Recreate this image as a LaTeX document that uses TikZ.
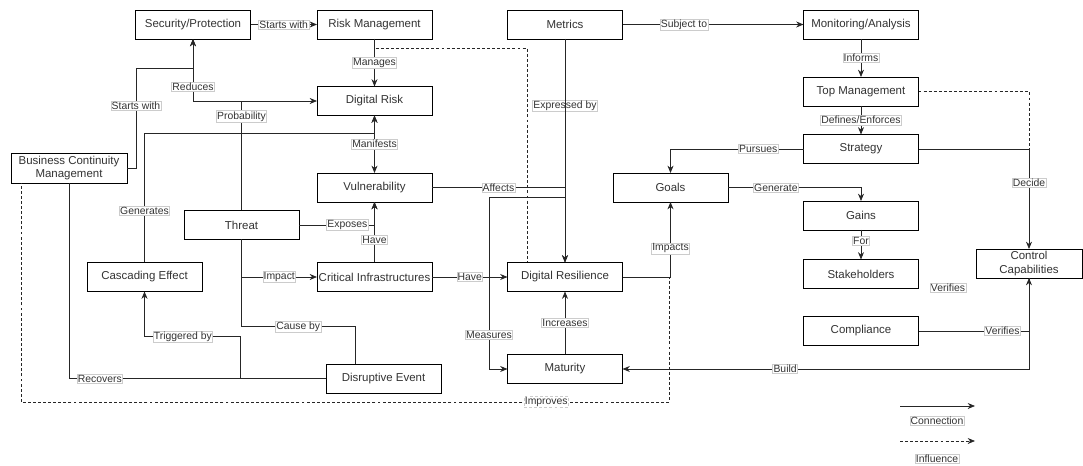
\documentclass[tikz,border=0pt]{standalone}
\usepackage{fontspec}
\setmainfont{Liberation Sans}
\usetikzlibrary{arrows.meta}

\begin{document}
\begin{tikzpicture}[x=0.75pt,y=-0.75pt,>={Stealth[length=5.5pt,width=4.5pt]}]
	\tikzstyle{entity} = [draw, line width=0.7pt, rectangle, fill=white, minimum width=86.25pt, minimum height=21.75pt, inner sep=1pt, outer sep=0pt, align=center, font=\fontsize{8.6}{10}\selectfont, text=black!80]
	\tikzstyle{tag} = [draw=black!20, line width=0.4pt, fill=white, inner sep=0.6pt, font=\fontsize{7.8}{9}\selectfont, text=black!80]
	\tikzstyle{link} = [line width=0.6pt, draw=black!85, ->]
	\tikzstyle{plainlink} = [line width=0.6pt, draw=black!85]
	\tikzstyle{influence} = [line width=0.6pt, draw=black!85, dash pattern=on 2.2pt off 1.6pt]
	\useasboundingbox (0,0) rectangle (1083,466);
	\node[entity] (sec) at (193,24.5) {Security/Protection}; \node[entity] (rm) at (374.5,24.5) {Risk Management}; \node[entity] (met) at (565,24.5) {Metrics}; \node[entity] (mon) at (861,24.5) {Monitoring/Analysis};
	\node[entity] (dr) at (374.5,101) {Digital Risk}; \node[entity] (vul) at (374.5,187.5) {Vulnerability}; \node[entity] (thr) at (241.5,225) {Threat};
	\node[entity, minimum width=87pt, minimum height=22.5pt] (bcm) at (69,168) {Business Continuity\\Management};
	\node[entity] (ci) at (374.5,277) {Critical Infrastructures}; \node[entity] (ce) at (144.5,277) {Cascading Effect}; \node[entity] (dres) at (565,277) {Digital Resilience};
	\node[entity] (mat) at (565,369) {Maturity}; \node[entity] (de) at (383.5,378.5) {Disruptive Event};
	\node[entity] (tm) at (861,91.5) {Top Management}; \node[entity] (str) at (861,149) {Strategy}; \node[entity] (goals) at (670.5,187.5) {Goals};
	\node[entity] (gains) at (861,215.5) {Gains}; \node[entity] (stk) at (861,274) {Stakeholders}; \node[entity] (comp) at (861,331) {Compliance};
	\node[entity, minimum width=79.5pt] (cc) at (1029,263.5) {Control\\Capabilities};
	\draw[influence] (rm.south) -- ++(0,9) -| ([xshift=-28.5pt]dres.north);
	\draw[influence] (dres.east) -- ++(47,0) -- ++(0,125) -| node[tag, pos=0.095]{Improves} ([xshift=7.5pt]bcm.south west);
	\draw[influence] (tm.east) -| (cc.north);
	\draw[link] (sec) -- node[tag]{Starts with} (rm);
	\draw[link] (bcm.east) -- ++(9,0) -- node[tag, pos=0.62]{Starts with} ++(0,-100) -| (sec.south);
	\draw[link] (thr.north) |- (dr.west -| sec) -- node[tag, pos=0.23]{Reduces} (sec.south);
	\draw[link] (thr.north) |- node[tag, pos=0.43]{Probability} (dr.west);
	\draw[link] (rm) -- node[tag]{Manages} (dr);
	\draw[plainlink, <->] (dr) -- node[tag]{Manifests} (vul);
	\draw[link] (ce.north) -- node[tag, pos=0.4]{Generates} ++(0,-129) -| (dr.south);
	\draw[link] (thr.east) -| node[tag, pos=0.32]{Exposes} (vul.south);
	\draw[link] (ci) -- node[tag, pos=0.38]{Have} (vul);
	\draw[link] (thr.south) |- node[tag, pos=0.75]{Impact} (ci.west);
	\draw[plainlink] (thr.south) -- ++(0,87) -| node[tag, pos=0.25]{Cause by} ([xshift=-21.4pt]de.north);
	\draw[link] (de.west) -- ++(-85.5,0) -- ++(0,-42) -| node[tag, pos=0.3]{Triggered by} (ce.south);
	\draw[plainlink] (bcm.south) |- node[tag, pos=0.56]{Recovers} (de.west);
	\draw[link] (dres.east) -| node[tag, pos=0.69]{Impacts} (goals.south);
	\draw[link] (vul.east) -| node[tag, pos=0.25]{Affects} (dres.north);
	\draw[link] (met) -- node[tag, pos=0.3]{Expressed by} (dres);
	\draw[link] (met.south) -- ++(0,158) -- ++(-76,0) |- node[tag, pos=0.4]{Measures} (mat.west);
	\draw[link] (ci) -- node[tag]{Have} (dres);
	\draw[link] (mat) -- node[tag]{Increases} (dres);
	\draw[link] (met) -- node[tag, pos=0.34]{Subject to} (mon);
	\draw[link] (mon) -- node[tag]{Informs} (tm);
	\draw[link] (tm) -- node[tag]{Defines/Enforces} (str);
	\draw[link] (str.east) -| node[tag, pos=0.67]{Decide} (cc.north);
	\draw[link] (comp.east) -| node[tag, pos=0.38]{Verifies} (cc.south);
	\draw[link] (cc.south) |- node[tag, pos=0.8]{Build} (mat.east);
	\draw[link] (str.west) -| node[tag, pos=0.17]{Pursues} (goals.north);
	\draw[link] (goals.east) -| node[tag, pos=0.18]{Generate} (gains.north);
	\draw[link] (gains) -- node[tag, pos=0.37]{For} (stk);
	\node[tag] (verifytag) at (948,288) {Verifies};
	\coordinate (conA) at (900,406); \coordinate (conB) at (975,406); \coordinate (infA) at (900,441); \coordinate (infB) at (975,441);
	\draw[link] (conA) -- (conB); \node[tag] (contag) at (937,421) {Connection};
	\draw[influence, ->] (infA) -- (infB); \node[tag] (inftag) at (937,459) {Influence};
\end{tikzpicture}
\end{document}
